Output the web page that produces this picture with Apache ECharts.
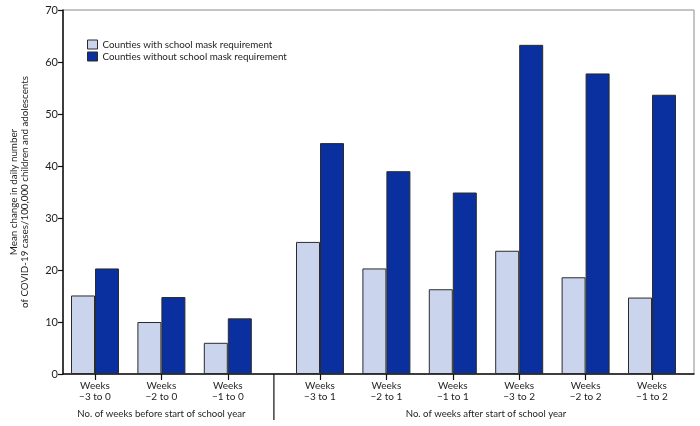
<!DOCTYPE html>
<html>
<head>
<meta charset="utf-8">
<script src="https://cdn.jsdelivr.net/npm/echarts@6/dist/echarts.min.js"></script>
<style>
html,body{margin:0;padding:0;background:#fff;}
#c{width:700px;height:426px;}
</style>
</head>
<body>
<div id="c"></div>
<script>
const beforeCategories = ['Weeks\n\u22123 to 0', 'Weeks\n\u22122 to 0', 'Weeks\n\u22121 to 0'];
const afterCategories = ['Weeks\n\u22123 to 1', 'Weeks\n\u22122 to 1', 'Weeks\n\u22121 to 1', 'Weeks\n\u22123 to 2', 'Weeks\n\u22122 to 2', 'Weeks\n\u22121 to 2'];
const withMaskBefore = [15.1, 10.0, 6.0];
const withoutMaskBefore = [20.3, 14.8, 10.7];
const withMaskAfter = [25.4, 20.3, 16.3, 23.7, 18.6, 14.7];
const withoutMaskAfter = [44.4, 39.0, 34.9, 63.3, 57.8, 53.7];
const seriesNames = ['Counties with school mask requirement', 'Counties without school mask requirement'];
const groupNames = ['No. of weeks before start of school year', 'No. of weeks after start of school year'];
const yTitle = 'Mean change in daily number\nof COVID-19 cases/100,000 children and adolescents';

const FONT = 'Lato';
const lightColor = '#cbd4ed';
const darkColor = '#0a2f9e';
const borderColor = '#2b2b2b';
const textColor = '#1e1e1e';

const plotTop = 10, plotBottom = 52;
const catW = 66.4;
const g0Left = 61.8, g1Left = 286.8;

const chart = echarts.init(document.getElementById('c'));

function catAxis(idx, data, name) {
  return {
    type: 'category', gridIndex: idx, data: data,
    axisLine: { show: false },
    axisTick: { show: true, alignWithLabel: true, length: 6, lineStyle: { color: '#111', width: 1.2 } },
    axisLabel: { fontFamily: FONT, fontSize: 10, color: textColor, lineHeight: 11.5, margin: 6, interval: 0 },
    name: name, nameLocation: 'middle', nameGap: 35,
    nameTextStyle: { fontFamily: FONT, fontSize: 9.6, color: textColor }
  };
}
function hiddenY(idx) {
  return { type: 'value', gridIndex: idx, min: 0, max: 70, interval: 10, show: false };
}
function barStyle(c) {
  return { color: c, borderColor: borderColor, borderWidth: 1 };
}

chart.setOption({
  animation: false,
  backgroundColor: '#fff',
  grid: [
    { left: g0Left, width: catW * 3, top: plotTop, bottom: plotBottom },
    { left: g1Left, width: catW * 6, top: plotTop, bottom: plotBottom },
    { left: 52, right: 6, top: plotTop, bottom: plotBottom, show: true, borderColor: '#8a8a8a', borderWidth: 1, backgroundColor: 'transparent' }
  ],
  legend: {
    orient: 'vertical', left: 82, top: 34, itemWidth: 10, itemHeight: 9, itemGap: 1,
    textStyle: { fontFamily: FONT, fontSize: 9.8, color: textColor, lineHeight: 11 },
    data: [
      { name: seriesNames[0], icon: 'rect', itemStyle: barStyle(lightColor) },
      { name: seriesNames[1], icon: 'rect', itemStyle: barStyle(darkColor) }
    ]
  },
  xAxis: [
    catAxis(0, beforeCategories, groupNames[0]),
    catAxis(1, afterCategories, groupNames[1]),
    { type: 'value', gridIndex: 2, min: 0, max: 1, position: 'bottom',
      axisLine: { show: true, lineStyle: { color: '#111', width: 1.5 } },
      axisTick: { show: false }, axisLabel: { show: false }, splitLine: { show: false } }
  ],
  yAxis: [
    hiddenY(0), hiddenY(1),
    { type: 'value', gridIndex: 2, min: 0, max: 70, interval: 10,
      axisLine: { show: true, lineStyle: { color: '#111', width: 1.5 } },
      axisTick: { show: true, length: 5, lineStyle: { color: '#111', width: 1.2 } },
      axisLabel: { fontFamily: FONT, fontSize: 11, color: textColor, margin: 5 },
      splitLine: { show: false },
      name: yTitle, nameLocation: 'middle', nameGap: 33, nameRotate: 90,
      nameTextStyle: { fontFamily: FONT, fontSize: 9.8, color: textColor, lineHeight: 11 } }
  ],
  series: [
    { name: seriesNames[0], type: 'bar', xAxisIndex: 0, yAxisIndex: 0, data: withMaskBefore, barWidth: 24, barGap: '0%', itemStyle: barStyle(lightColor) },
    { name: seriesNames[1], type: 'bar', xAxisIndex: 0, yAxisIndex: 0, data: withoutMaskBefore, barWidth: 24, barGap: '0%', itemStyle: barStyle(darkColor) },
    { name: seriesNames[0], type: 'bar', xAxisIndex: 1, yAxisIndex: 1, data: withMaskAfter, barWidth: 24, barGap: '0%', itemStyle: barStyle(lightColor) },
    { name: seriesNames[1], type: 'bar', xAxisIndex: 1, yAxisIndex: 1, data: withoutMaskAfter, barWidth: 24, barGap: '0%', itemStyle: barStyle(darkColor) }
  ]
});

// separator between the two groups, placed midway between the grids
const sepX = (g0Left + catW * 3 + g1Left) / 2;
const axisY = 426 - plotBottom;
chart.setOption({
  graphic: [{
    type: 'line', silent: true,
    shape: { x1: sepX, y1: axisY, x2: sepX, y2: axisY + 46 },
    style: { stroke: '#111', lineWidth: 1.2 }
  }]
});
</script>
</body>
</html>
